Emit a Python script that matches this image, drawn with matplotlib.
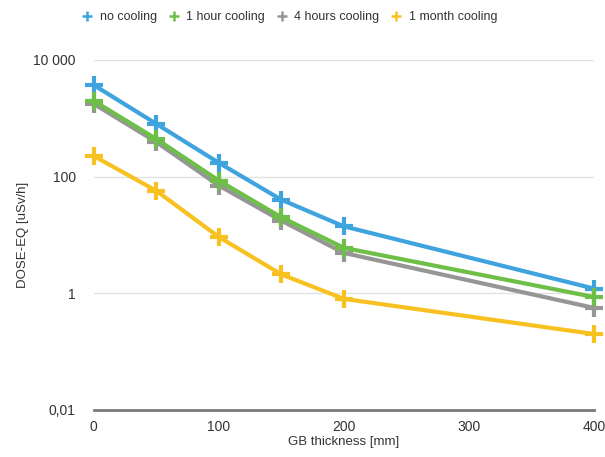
import matplotlib
matplotlib.use("Agg")
import matplotlib.pyplot as plt
from matplotlib.lines import Line2D
from matplotlib.ticker import FixedLocator, FuncFormatter

plt.rcParams['font.family'] = ['Liberation Sans', 'DejaVu Sans']

# GB thickness [mm]
thickness = [0, 50, 100, 150, 200, 400]

# dose equivalent [uSv/h]
no_cooling = [3700, 800, 172, 40, 14, 1.2]
hour_1 = [1980, 440, 85, 20, 6.0, 0.86]
hours_4 = [1760, 390, 70, 17.5, 4.9, 0.56]
month_1 = [225, 57, 9.2, 2.1, 0.8, 0.2]

series = [
    ("no cooling", no_cooling, "#3fa3de"),
    ("1 hour cooling", hour_1, "#6dbf48"),
    ("4 hours cooling", hours_4, "#969696"),
    ("1 month cooling", month_1, "#f7c221"),
]

y_ticks = [0.01, 1, 100, 10000]
y_labels = ["0,01", "1", "100", "10 000"]

fig = plt.figure(figsize=(6.05, 4.57), dpi=100)
ax = fig.add_axes([0.155, 0.103, 0.827, 0.766])

# draw 4 hours first so the others lie on top, like the original
for name, vals, col in [series[2], series[0], series[1], series[3]]:
    ax.plot(thickness, vals, color=col, lw=3, marker='+', ms=13, mew=3,
            solid_joinstyle='round', solid_capstyle='round', zorder=3, clip_on=False)

ax.set_yscale('log')
ax.set_ylim(0.01, 10000)
ax.set_xlim(0, 400)
ax.yaxis.set_major_locator(FixedLocator(y_ticks))
ax.yaxis.set_minor_locator(FixedLocator([]))
ax.yaxis.set_major_formatter(FuncFormatter(lambda v, p: y_labels[y_ticks.index(v)] if v in y_ticks else ""))
ax.set_xticks([0, 100, 200, 300, 400])

ax.grid(axis='y', color='#e2e2e2', lw=1)
ax.set_axisbelow(True)
for s in ['left', 'right', 'top']:
    ax.spines[s].set_visible(False)
ax.spines['bottom'].set_color('#7a7a7a')
ax.spines['bottom'].set_linewidth(2)
ax.tick_params(length=0, labelsize=10, colors='#333333', pad=7)
ax.tick_params(axis='y', pad=13)

ax.set_xlabel("GB thickness [mm]", fontsize=9.5, color='#333333', labelpad=2)
ax.set_ylabel("DOSE-EQ [uSv/h]", fontsize=9.5, color='#333333', labelpad=3)

handles = [Line2D([], [], color=c, marker='+', ls='none', ms=7, mew=1.8) for _, _, c in series]
fig.legend(handles, [n for n, _, _ in series], loc='upper center', bbox_to_anchor=(0.478, 1.0),
           ncol=4, frameon=False, fontsize=9, handletextpad=0.5, columnspacing=0.85,
           handlelength=1.0, labelcolor='#333333')

fig.savefig("out.png", dpi=100)
